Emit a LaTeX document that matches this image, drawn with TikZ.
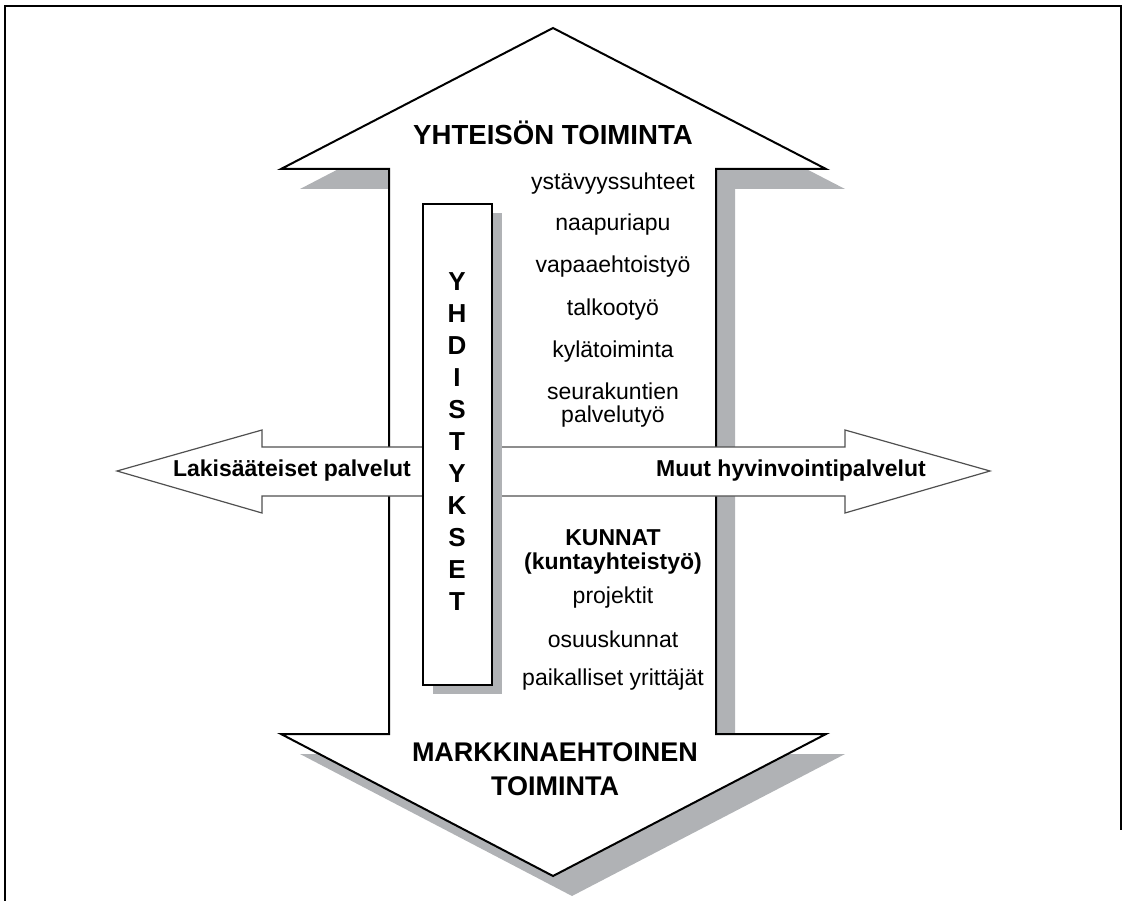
\documentclass[tikz,border=0pt]{standalone}
\usepackage{fontspec}
\setmainfont{Liberation Sans}
\usetikzlibrary{shadows}
\definecolor{shade}{RGB}{176,178,181}
\definecolor{thin}{RGB}{80,80,80}
\newcommand\bigarrow[1]{\path[#1](553,28)--(826,169)--(716,169)--(716,734)--(826,734)--(553,876)--(281,734)--(389,734)--(389,169)--(281,169)--cycle;}
\begin{document}
\begin{tikzpicture}[x=1pt,y=-1pt]
	\tikzset{t/.style={inner sep=0pt,align=center,font=\fontsize{23}{23.5}\selectfont},
	b/.style={t,font=\fontsize{23}{24}\selectfont\bfseries},
	h/.style={inner sep=0pt,align=center,font=\fontsize{27}{34}\selectfont\bfseries}}
	\useasboundingbox(0,0)rectangle(1126,901);
	\draw[line width=1.6pt](5,901)--(5,6)--(1121,6)--(1121,830);
	% pystynuoli varjoineen
	\bigarrow{fill=shade,shift={(19,20)}}
	\bigarrow{fill=white,draw=black,line width=2pt,line join=miter}
	% vaakanuoli
	\path[fill=white,draw=thin,line width=1.2pt](117,471)--(262,430)--(262,447)--(845,447)--(845,430)--(990,471)--(845,513)--(845,496)--(262,496)--(262,513)--cycle;
	\node[draw,line width=2pt,fill=white,minimum width=69pt,minimum height=481pt,inner sep=0pt,
	drop shadow={shadow xshift=10pt,shadow yshift=-9pt,fill=shade,opacity=1}](Y) at (457.5,444.5){};
	\foreach \l [count=\i] in {Y,H,D,I,S,T,Y,K,S,E,T}
	\node[h,font=\fontsize{26}{26}\selectfont\bfseries](y\i) at (457,{250+32*\i}){\l};
	\node[h,font=\fontsize{27.6}{34}\selectfont\bfseries](top) at (553,133){YHTEISÖN TOIMINTA};
	\node[h](bot) at (555,769){MARKKINAEHTOINEN\\TOIMINTA};
	\node[b](L) at (292,471){Lakisääteiset palvelut};
	\node[b](R) at (791,471){Muut hyvinvointipalvelut};
	\foreach \x/\y in {
	ystävyyssuhteet/184,naapuriapu/225,vapaaehtoistyö/267,
	talkootyö/310,kylätoiminta/352,{seurakuntien\\palvelutyö}/405,
	projektit/598,osuuskunnat/639,paikalliset yrittäjät/680}
	\node[t](i\y) at (613,\y){\x};
	\node[b](K) at (613,552){KUNNAT\\(kuntayhteistyö)};
\end{tikzpicture}
\end{document}
